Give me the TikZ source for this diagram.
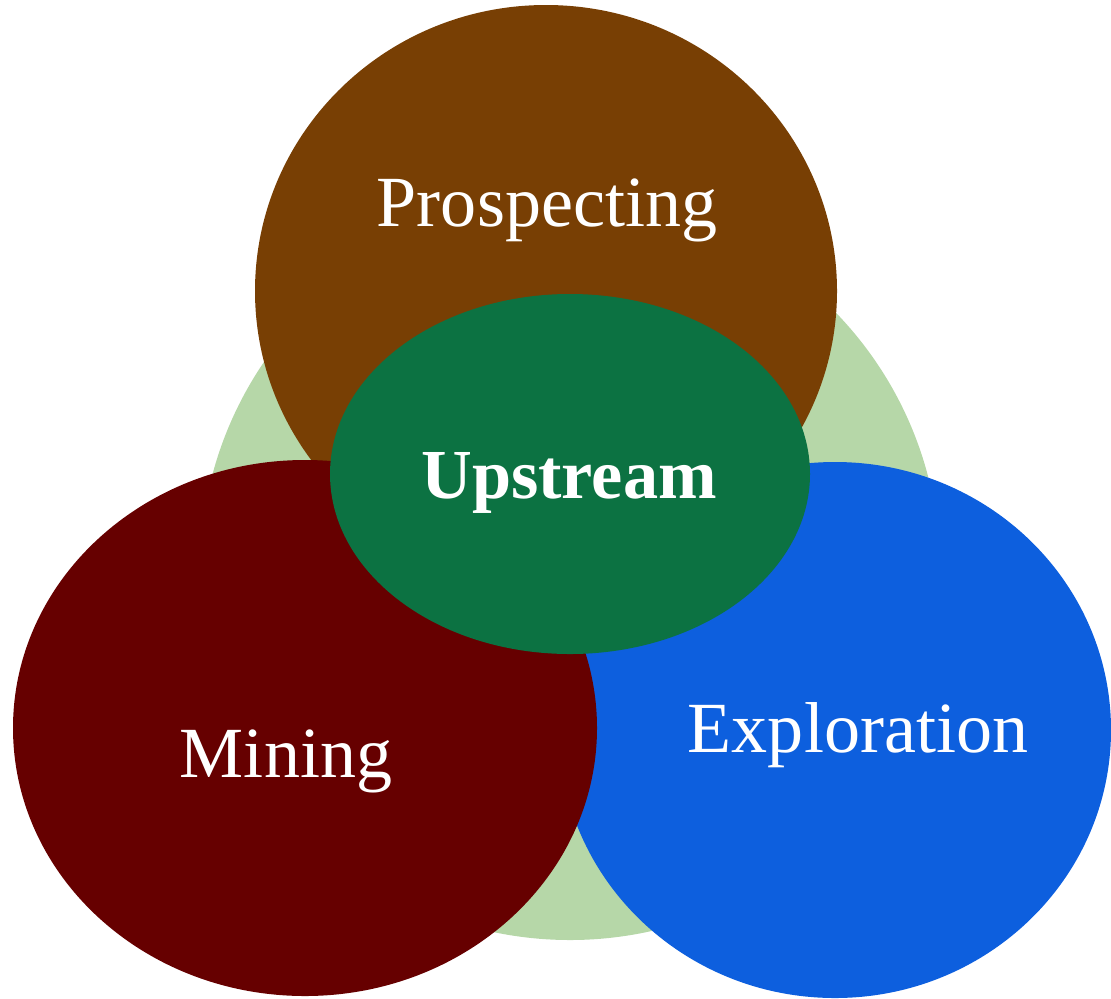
\documentclass[tikz,border=0pt]{standalone}
\usepackage{fontspec}
\setmainfont{Liberation Serif}
\usepackage{tikz}
\usetikzlibrary{positioning}

\definecolor{bgleaf}{RGB}{182,215,168}
\definecolor{prospbrown}{RGB}{120,63,4}
\definecolor{miningred}{RGB}{102,0,0}
\definecolor{explblue}{RGB}{13,95,222}
\definecolor{upgreen}{RGB}{12,114,66}

\tikzset{
  label/.style={text=white,anchor=base,inner sep=0pt,font=\fontsize{41}{48}\selectfont},
  core/.style={label,font=\fontsize{40}{48}\selectfont\bfseries}
}

\begin{document}
\begin{tikzpicture}[x=0.02cm,y=-0.02cm]
  \useasboundingbox (0,0) rectangle (1111,998);
% backdrop circle
  \fill[bgleaf] (570,570) circle (370);
% the three stages
  \fill[prospbrown] (546,291) ellipse (291 and 286);
  \fill[explblue] (835,730) ellipse (276 and 268);
  \fill[miningred] (305,728) ellipse (292 and 268);
% centre
  \fill[upgreen] (570,474) ellipse (240 and 180);
  \node[label] (prosp) at (547,226) {Prospecting};
  \node[core] (up) at (569,498) {Upstream};
  \node[label] (mining) at (286,777) {Mining};
  \node[label] (expl) at (858,752) {Exploration};
\end{tikzpicture}
\end{document}
